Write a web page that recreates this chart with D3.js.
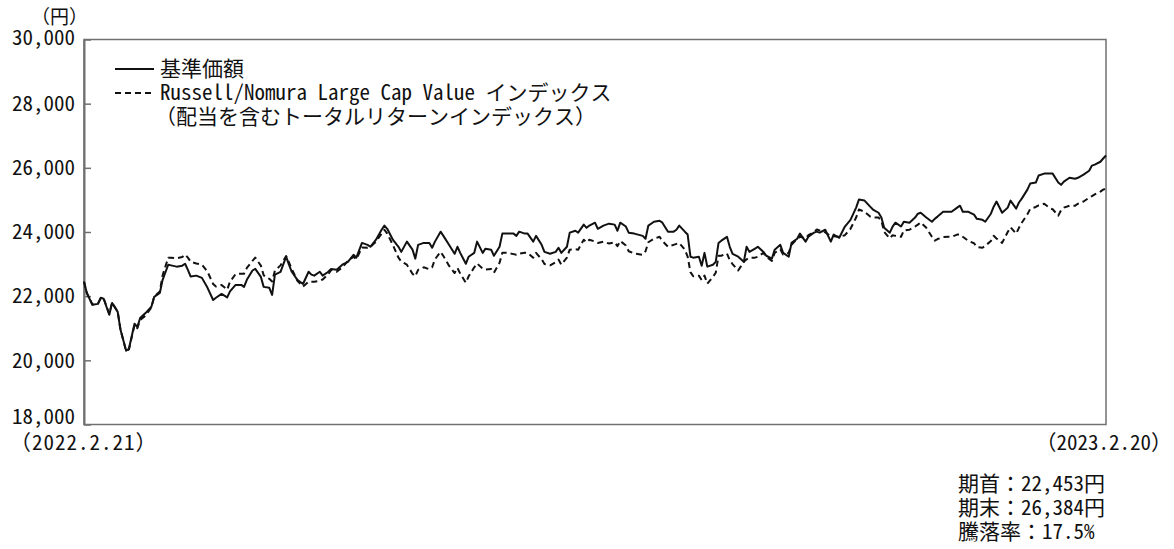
<!DOCTYPE html>
<html lang="ja">
<head>
<meta charset="utf-8">
<script src="https://cdn.jsdelivr.net/npm/d3@7"></script>
<style>
  html, body { margin: 0; padding: 0; background: #fff; }
  svg text { font-family: "Noto Sans Mono CJK JP", "Noto Sans CJK JP", monospace; fill: #111; }
</style>
</head>
<body>
<svg id="chart" width="1174" height="549"></svg>
<script>
// Fund NAV vs. benchmark (benchmark rebased to the opening NAV), 2022-02-21 .. 2023-02-20
const dates = [
"2022-02-21","2022-02-22","2022-02-24","2022-02-26","2022-02-27","2022-02-28","2022-03-02","2022-03-03","2022-03-05","2022-03-06",
"2022-03-08","2022-03-09","2022-03-11","2022-03-12","2022-03-13","2022-03-15","2022-03-17","2022-03-18","2022-03-20","2022-03-21",
"2022-03-23","2022-03-24","2022-03-26","2022-03-28","2022-03-29","2022-03-30","2022-03-31","2022-04-02","2022-04-04","2022-04-06",
"2022-04-08","2022-04-09","2022-04-11","2022-04-13","2022-04-14","2022-04-16","2022-04-18","2022-04-19","2022-04-20","2022-04-22",
"2022-04-23","2022-04-25","2022-04-26","2022-04-28","2022-04-29","2022-04-30","2022-05-02","2022-05-04","2022-05-05","2022-05-06",
"2022-05-08","2022-05-10","2022-05-12","2022-05-13","2022-05-14","2022-05-16","2022-05-17","2022-05-19","2022-05-20","2022-05-22",
"2022-05-24","2022-05-26","2022-05-28","2022-05-29","2022-05-31","2022-06-02","2022-06-03","2022-06-05","2022-06-07","2022-06-08",
"2022-06-09","2022-06-11","2022-06-13","2022-06-14","2022-06-16","2022-06-18","2022-06-19","2022-06-20","2022-06-22","2022-06-24",
"2022-06-25","2022-06-26","2022-06-28","2022-06-29","2022-07-01","2022-07-03","2022-07-04","2022-07-05","2022-07-07","2022-07-08",
"2022-07-10","2022-07-11","2022-07-13","2022-07-14","2022-07-16","2022-07-17","2022-07-19","2022-07-20","2022-07-22","2022-07-24",
"2022-07-25","2022-07-26","2022-07-28","2022-07-29","2022-07-31","2022-08-01","2022-08-03","2022-08-04","2022-08-06","2022-08-08",
"2022-08-09","2022-08-10","2022-08-12","2022-08-13","2022-08-15","2022-08-16","2022-08-18","2022-08-19","2022-08-20","2022-08-22",
"2022-08-23","2022-08-25","2022-08-27","2022-08-29","2022-08-30","2022-08-31","2022-09-02","2022-09-03","2022-09-05","2022-09-08",
"2022-09-09","2022-09-10","2022-09-12","2022-09-14","2022-09-15","2022-09-17","2022-09-19","2022-09-20","2022-09-21","2022-09-23",
"2022-09-24","2022-09-25","2022-09-26","2022-09-28","2022-09-29","2022-09-30","2022-10-01","2022-10-03","2022-10-04","2022-10-05",
"2022-10-06","2022-10-08","2022-10-09","2022-10-10","2022-10-12","2022-10-14","2022-10-15","2022-10-16","2022-10-18","2022-10-19",
"2022-10-21","2022-10-22","2022-10-24","2022-10-25","2022-10-27","2022-10-28","2022-10-30","2022-10-31","2022-11-02","2022-11-03",
"2022-11-05","2022-11-06","2022-11-08","2022-11-09","2022-11-10","2022-11-12","2022-11-14","2022-11-15","2022-11-17","2022-11-19",
"2022-11-21","2022-11-23","2022-11-24","2022-11-26","2022-11-28","2022-11-29","2022-12-01","2022-12-02","2022-12-03","2022-12-05",
"2022-12-06","2022-12-07","2022-12-09","2022-12-10","2022-12-12","2022-12-14","2022-12-15","2022-12-16","2022-12-18","2022-12-20",
"2022-12-21","2022-12-22","2022-12-24","2022-12-26","2022-12-27","2022-12-29","2022-12-30","2022-12-31","2023-01-02","2023-01-04",
"2023-01-05","2023-01-07","2023-01-08","2023-01-10","2023-01-11","2023-01-12","2023-01-14","2023-01-16","2023-01-17","2023-01-19",
"2023-01-20","2023-01-21","2023-01-23","2023-01-24","2023-01-26","2023-01-27","2023-01-29","2023-01-31","2023-02-01","2023-02-03",
"2023-02-04","2023-02-05","2023-02-07","2023-02-09","2023-02-10","2023-02-12","2023-02-14","2023-02-15","2023-02-16","2023-02-18",
"2023-02-19","2023-02-20"
];

// 基準価額 (yen)
const navValues = [
22453,22100,21730,21760,21950,21920,21420,21790,21510,20950,
20300,20360,21140,21040,21320,21480,21670,21980,22100,22510,
22980,22960,22920,22950,23010,22820,22610,22640,22570,22260,
21880,21950,22070,21960,22150,22350,22350,22290,22510,22800,
22850,22600,22290,22260,22040,22670,22760,23230,22980,22760,
22510,22380,22760,22670,22640,22760,22640,22760,22850,22820,
22980,23070,23290,23200,23660,23600,23540,23760,24070,24200,
24100,23760,23540,23380,23700,23450,23170,23600,23660,23660,
23510,23700,24010,23880,23600,23320,23540,23350,23010,23230,
23350,23700,23350,23480,23450,23260,23540,23950,23950,23950,
23880,24010,23950,23950,23700,23880,23600,23380,23320,23380,
23510,23350,23540,23980,24040,23980,24230,24130,24200,24290,
24100,24200,24260,24230,24040,24290,24170,23980,23950,23880,
23790,24200,24320,24350,24290,24010,24010,24070,24200,24010,
23920,23230,23200,23230,22950,23350,22920,22980,23070,23660,
23730,23850,23540,23320,23230,23070,23540,23380,23480,23540,
23380,23260,23170,23450,23600,23350,23230,23660,23790,23950,
23700,23850,23980,24010,23980,24070,23700,23920,23820,24170,
24380,24760,25010,24980,24790,24700,24600,24450,24130,23980,
24170,24290,24170,24320,24290,24450,24570,24600,24450,24320,
24410,24480,24630,24630,24630,24760,24820,24630,24630,24540,
24410,24380,24320,24570,24790,24950,24600,24760,24980,24730,
24920,25040,25320,25510,25540,25760,25820,25820,25820,25540,
25470,25570,25690,25660,25690,25790,25910,26070,26100,26190,
26290,26384
];

// Russell/Nomura Large Cap Value インデックス (配当込み), rebased to the opening NAV
const benchValues = [
22453,22100,21740,21780,21950,21930,21450,21800,21520,20960,
20290,20340,21100,21000,21260,21400,21650,21980,22150,22650,
23200,23200,23180,23220,23300,23200,23070,23020,22980,22760,
22380,22300,22350,22200,22450,22690,22700,22700,22880,23100,
23200,22950,22650,22540,22460,22800,22960,23250,23050,22850,
22480,22300,22450,22450,22450,22480,22520,22680,22820,22760,
22900,23100,23230,23150,23520,23510,23530,23700,23950,24070,
23950,23600,23200,23080,22980,22700,22620,22820,22900,22840,
22900,23150,23380,23250,22950,22720,22880,22700,22420,22620,
22900,23020,22860,22830,22850,22730,23040,23350,23350,23310,
23290,23330,23350,23350,23200,23350,23150,23000,22960,23060,
23140,22980,23200,23450,23460,23450,23760,23680,23760,23700,
23660,23700,23640,23680,23560,23720,23580,23400,23330,23290,
23400,23680,23790,23850,23720,23540,23600,23630,23660,23450,
23230,22750,22620,22640,22500,22640,22390,22600,22730,23260,
23260,23330,23120,23000,22800,23070,23150,23200,23200,23230,
23350,23230,23100,23350,23460,23300,23350,23600,23790,23850,
23800,23900,24000,24080,24050,23990,23870,23870,23850,23900,
24100,24450,24700,24630,24480,24450,24450,24350,24000,23800,
23900,23880,23850,24050,24070,24170,24230,24300,24130,23850,
23730,23780,23840,23850,23850,23920,23920,23850,23720,23650,
23530,23510,23570,23720,23880,23800,23660,24000,24150,23950,
24130,24290,24550,24720,24780,24830,24880,24740,24710,24510,
24680,24760,24820,24820,24880,24950,25070,25120,25170,25260,
25320,25350
];

const yTicks = [18000, 20000, 22000, 24000, 26000, 28000, 30000];
const periodLabels = ["（2022.2.21）", "（2023.2.20）"];
const seriesNames = ["基準価額", "Russell/Nomura Large Cap Value インデックス", "（配当を含むトータルリターンインデックス）"];
const summaryLines = ["期首：22,453円", "期末：26,384円", "騰落率：17.5%"];
const unitLabel = "（円）";

const parse = d3.timeParse("%Y-%m-%d");
const rows = dates.map((d, i) => ({ date: parse(d), nav: navValues[i], bench: benchValues[i] }));

const svg = d3.select("#chart");
const plot = { left: 84, right: 1106, top: 39.5, bottom: 424.5 };
const FS = 21;

const x = d3.scaleTime()
  .domain([parse(dates[0]), parse(dates[dates.length - 1])])
  .range([plot.left, plot.right]);
const y = d3.scaleLinear().domain([18000, 30000]).range([plot.bottom, plot.top]);

// frame
svg.append("rect")
  .attr("x", plot.left).attr("y", plot.top)
  .attr("width", plot.right - plot.left).attr("height", plot.bottom - plot.top)
  .attr("fill", "none").attr("stroke", "#707070").attr("stroke-width", 1.5);

// y axis: ticks point into the plot
const yAxis = svg.append("g")
  .attr("transform", `translate(${plot.left},0)`)
  .call(d3.axisLeft(y).tickValues(yTicks).tickFormat(d3.format(","))
    .tickSizeInner(-7).tickSizeOuter(0).tickPadding(9));
yAxis.select(".domain").attr("stroke", "#707070").attr("stroke-width", 2);
yAxis.selectAll(".tick line").attr("stroke", "#707070").attr("stroke-width", 1.5);
yAxis.selectAll(".tick text")
  .attr("font-size", FS)
  .attr("fill", "#111")
  .style("font-family", "'Noto Sans Mono CJK JP','Noto Sans CJK JP',monospace")
  .attr("dy", d => d === 18000 ? "-0.05em" : d === 30000 ? "0.22em" : "0.32em");

// unit
svg.append("text").attr("x", 31).attr("y", 24).attr("font-size", 19).text(unitLabel);

// series lines
const line = key => d3.line().x(d => x(d.date)).y(d => y(d[key]));
svg.append("path").datum(rows)
  .attr("fill", "none").attr("stroke", "#111").attr("stroke-width", 2)
  .attr("stroke-dasharray", "6,4").attr("stroke-linejoin", "round")
  .attr("d", line("bench"));
svg.append("path").datum(rows)
  .attr("fill", "none").attr("stroke", "#111").attr("stroke-width", 2)
  .attr("stroke-linejoin", "round")
  .attr("d", line("nav"));

// legend
const lg = svg.append("g");
lg.append("line").attr("x1", 115).attr("x2", 154).attr("y1", 69).attr("y2", 69)
  .attr("stroke", "#111").attr("stroke-width", 2);
lg.append("line").attr("x1", 115).attr("x2", 154).attr("y1", 93).attr("y2", 93)
  .attr("stroke", "#111").attr("stroke-width", 2).attr("stroke-dasharray", "6,4");
lg.append("text")
  .attr("font-size", FS)
  .selectAll("tspan").data(seriesNames).join("tspan")
  .attr("x", (d, i) => i === 2 ? 155 : 160)
  .attr("y", (d, i) => 76 + i * 24)
  .text(d => d);

// period labels
svg.append("text").attr("x", 10).attr("y", 450)
  .attr("letter-spacing", 1)
  .attr("font-size", FS).text(periodLabels[0]);
svg.append("text").attr("x", 1172).attr("y", 450)
  .attr("text-anchor", "end").attr("font-size", FS).text(periodLabels[1]);

// summary
svg.append("text")
  .attr("font-size", FS)
  .selectAll("tspan").data(summaryLines).join("tspan")
  .attr("x", 958)
  .attr("y", (d, i) => 491 + i * 24)
  .text(d => d);
</script>
</body>
</html>
